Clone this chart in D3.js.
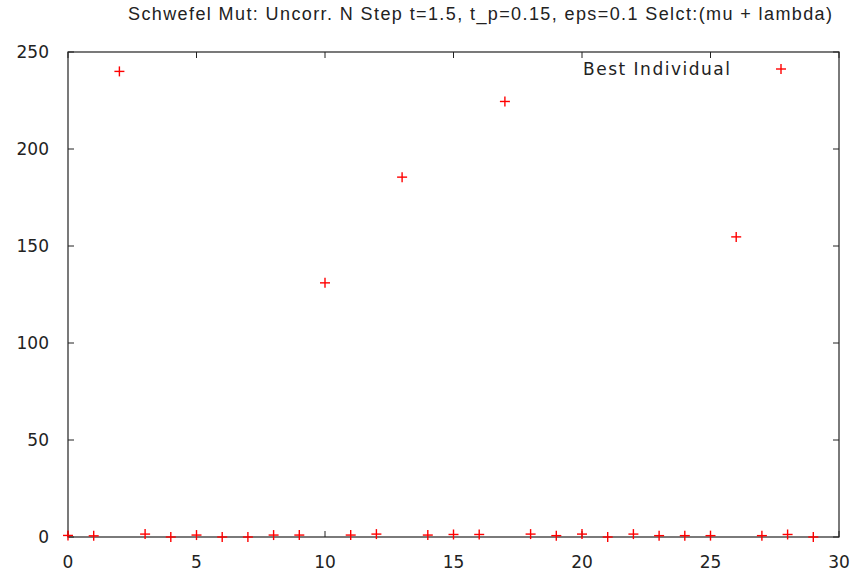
<!DOCTYPE html>
<html>
<head>
<meta charset="utf-8">
<script src="https://cdn.jsdelivr.net/npm/d3@7"></script>
<style>
  body { margin: 0; background: #fff; }
  svg text { fill: #222; }
</style>
</head>
<body>
<svg id="chart" width="855" height="575"></svg>
<script>
// Generation index and best-individual fitness per generation
const generations = [0, 1, 2, 3, 4, 5, 6, 7, 8, 9, 10, 11, 12, 13, 14, 15, 16, 17, 18, 19, 20, 21, 22, 23, 24, 25, 26, 27, 28, 29];
const bestFitness = [0.8, 0.6, 240, 1.5, 0, 1, 0, 0, 1, 1, 131, 1, 1.5, 185.5, 1, 1.3, 1.3, 224.5, 1.5, 0.7, 1.5, 0, 1.5, 0.7, 0.7, 0.7, 154.7, 0.7, 1.3, 0];
const xTicks = [0, 5, 10, 15, 20, 25, 30];
const yTicks = [0, 50, 100, 150, 200, 250];
const titleText = "Schwefel Mut: Uncorr. N Step t=1.5, t_p=0.15, eps=0.1 Selct:(mu + lambda)";
const legendText = "Best Individual";

const svg = d3.select("#chart");
const plotLeft = 68, plotRight = 839, plotTop = 52, plotBottom = 537;

const x = d3.scaleLinear().domain([0, 30]).range([plotLeft, plotRight]);
const y = d3.scaleLinear().domain([0, 250]).range([plotBottom, plotTop]);

const tickLen = 6;
const font = "'DejaVu Sans', sans-serif";

// Frame
svg.append("rect")
  .attr("x", plotLeft).attr("y", plotTop)
  .attr("width", plotRight - plotLeft).attr("height", plotBottom - plotTop)
  .attr("fill", "none").attr("stroke", "#222").attr("stroke-width", 1.2);

// Inward ticks on all four sides
const tickG = svg.append("g").attr("stroke", "#222").attr("stroke-width", 1);
xTicks.forEach(t => {
  tickG.append("line").attr("x1", x(t)).attr("x2", x(t)).attr("y1", plotBottom).attr("y2", plotBottom - tickLen);
  tickG.append("line").attr("x1", x(t)).attr("x2", x(t)).attr("y1", plotTop).attr("y2", plotTop + tickLen);
});
yTicks.forEach(t => {
  tickG.append("line").attr("x1", plotLeft).attr("x2", plotLeft + tickLen).attr("y1", y(t)).attr("y2", y(t));
  tickG.append("line").attr("x1", plotRight).attr("x2", plotRight - tickLen).attr("y1", y(t)).attr("y2", y(t));
});

// Tick labels
svg.append("g").selectAll("text").data(xTicks).join("text")
  .attr("x", d => x(d)).attr("y", 568)
  .attr("text-anchor", "middle")
  .style("font-family", font).style("font-size", "17px")
  .text(d => d);
svg.append("g").selectAll("text").data(yTicks).join("text")
  .attr("x", 49).attr("y", d => y(d) + 6)
  .attr("text-anchor", "end")
  .style("font-family", font).style("font-size", "17px")
  .text(d => d);

// Title
svg.append("text")
  .attr("x", 128).attr("y", 20)
  .attr("textLength", 704).attr("lengthAdjust", "spacing")
  .style("font-family", "'Liberation Sans', Arial, sans-serif").style("font-size", "18px")
  .text(titleText);

// Plus markers
const plus = (g, cx, cy, s) => {
  g.append("line").attr("x1", cx - s).attr("x2", cx + s).attr("y1", cy).attr("y2", cy);
  g.append("line").attr("x1", cx).attr("x2", cx).attr("y1", cy - s).attr("y2", cy + s);
};
const pts = svg.append("g").attr("stroke", "#ff0000").attr("stroke-width", 1.4);
generations.forEach((g, i) => plus(pts, x(g), y(bestFitness[i]), 5));

// Legend
svg.append("text")
  .attr("x", 583).attr("y", 75)
  .attr("textLength", 147).attr("lengthAdjust", "spacing")
  .style("font-family", font).style("font-size", "17px")
  .text(legendText);
const leg = svg.append("g").attr("stroke", "#ff0000").attr("stroke-width", 1.4);
plus(leg, 781, 69, 5);
</script>
</body>
</html>
